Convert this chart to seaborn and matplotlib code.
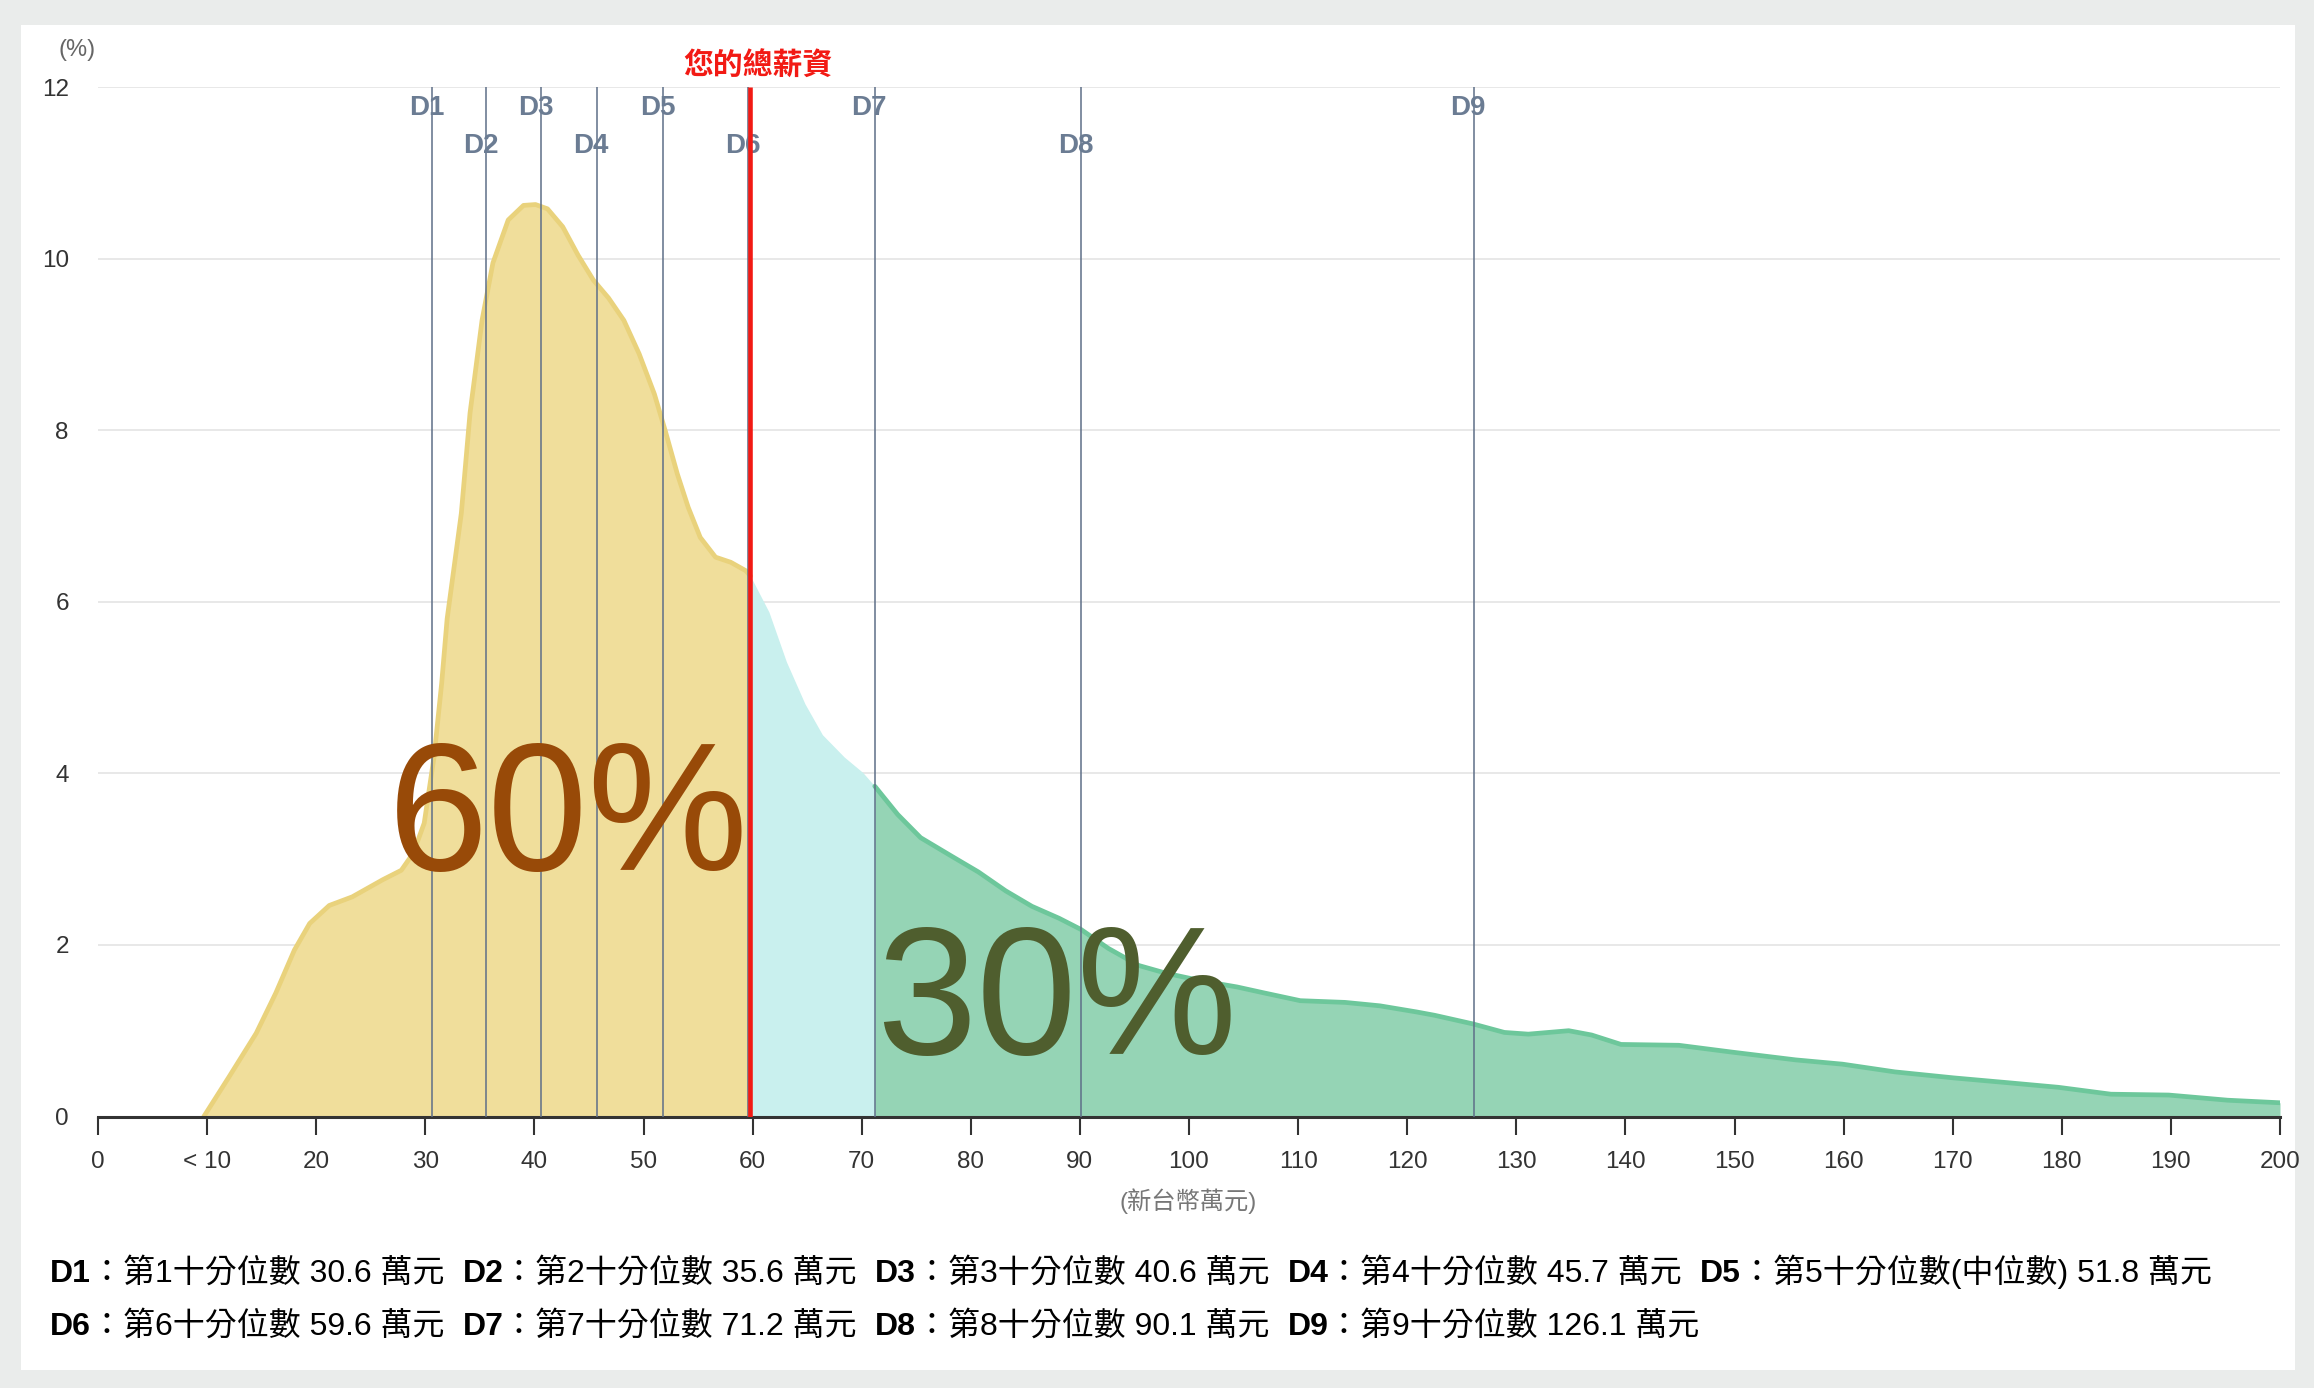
import matplotlib
matplotlib.use('Agg')
import matplotlib.pyplot as plt
from matplotlib.patches import Rectangle
import pandas as pd
import seaborn as sns

# salary distribution (x: 萬元, y: %)
salary_x = [9.7, 12.0, 14.5, 16.3, 18.0, 19.4, 21.2, 23.3, 24.7, 26.1, 27.8, 28.9, 29.9,
            30.8, 31.5, 32.0, 33.3, 34.1, 35.2, 36.2, 37.6, 39.0, 40.1, 41.2, 42.6, 44.0,
            45.4, 46.8, 48.2, 49.6, 51.0, 52.0, 53.1, 54.1, 55.2, 56.6, 58.0, 59.4, 59.8,
            61.5, 63.1, 64.8, 66.4, 68.4, 70.1, 71.2, 73.3, 75.4, 78.3, 80.7, 83.2, 85.6,
            88.1, 90.1, 92.6, 95.4, 97.9, 101.2, 104.4, 106.9, 110.2, 114.3, 117.5, 120.8,
            122.5, 126.0, 128.9, 131.1, 134.8, 136.9, 139.6, 144.9, 149.8, 155.6, 159.9,
            164.7, 170.1, 175.4, 179.7, 184.5, 189.8, 195.2, 200.0]
share_pct = [0.0, 0.46, 0.97, 1.44, 1.94, 2.25, 2.46, 2.56, 2.66, 2.76, 2.87, 3.07, 3.42,
             4.19, 5.05, 5.8, 7.03, 8.2, 9.28, 9.95, 10.45, 10.62, 10.63, 10.58, 10.37, 10.04,
             9.75, 9.54, 9.28, 8.89, 8.42, 7.99, 7.49, 7.1, 6.75, 6.52, 6.46, 6.36, 6.3,
             5.88, 5.30, 4.81, 4.45, 4.19, 4.01, 3.85, 3.52, 3.25, 3.03, 2.85, 2.63, 2.45,
             2.31, 2.18, 1.96, 1.76, 1.67, 1.58, 1.51, 1.44, 1.35, 1.33, 1.29, 1.22,
             1.18, 1.08, 0.98, 0.96, 1.0, 0.95, 0.84, 0.83, 0.75, 0.66, 0.61,
             0.52, 0.45, 0.39, 0.34, 0.26, 0.25, 0.19, 0.16]

decile_names = ['D1', 'D2', 'D3', 'D4', 'D5', 'D6', 'D7', 'D8', 'D9']
decile_values = [30.6, 35.6, 40.6, 45.7, 51.8, 59.6, 71.2, 90.1, 126.1]
decile_desc = ['第1十分位數', '第2十分位數', '第3十分位數', '第4十分位數', '第5十分位數(中位數)',
               '第6十分位數', '第7十分位數', '第8十分位數', '第9十分位數']
my_salary = 59.8
below_label = '60%'
above_label = '30%'

x_ticks = list(range(0, 201, 10))
x_tick_labels = ['0', '< 10'] + [str(v) for v in range(20, 201, 10)]
y_ticks = [0, 2, 4, 6, 8, 10, 12]

sns.set_theme(style='white')
plt.rcParams['font.family'] = ['Liberation Sans', 'Noto Sans CJK TC']

W, H = 2314, 1388
df = pd.DataFrame({'salary': salary_x, 'pct': share_pct})
below = df[df.salary <= my_salary]
middle = df[(df.salary >= my_salary) & (df.salary <= decile_values[6])]
top = df[df.salary >= decile_values[6]]

fig = plt.figure(figsize=(W / 100, H / 100), dpi=100, facecolor='#eaeceb')
fig.patches.append(Rectangle((21 / W, 1 - 1370 / H), (2295 - 21) / W, (1370 - 25) / H,
                             transform=fig.transFigure, facecolor='white', edgecolor='none', zorder=-10))
ax = fig.add_axes([98 / W, 1 - 1116.5 / H, (2280 - 98) / W, (1116.5 - 87) / H])
ax.set_facecolor('white')
ax.set_zorder(1)

# areas
ax.fill_between(below.salary, below.pct, color='#f0de9b', lw=0, zorder=1)
ax.fill_between(middle.salary, middle.pct, color='#c9f0ee', lw=0, zorder=1)
ax.fill_between(top.salary, top.pct, color='#95d4b5', lw=0, zorder=1)
sns.lineplot(data=below, x='salary', y='pct', estimator=None, color='#e9d27c', lw=3.4, ax=ax, zorder=2)
sns.lineplot(data=top, x='salary', y='pct', estimator=None, color='#6dc79b', lw=3.4, ax=ax, zorder=2)

# decile markers
ax.vlines(decile_values, 0, 12, color='#5e6f88', lw=1.1, zorder=3)
for i, (name, val) in enumerate(zip(decile_names, decile_values)):
    ax.text(val - 0.5, 11.76 if i % 2 == 0 else 11.31, name, ha='center', va='center',
            fontsize=20, fontweight='bold', color='#6b7c93', zorder=3.5)
ax.vlines(my_salary, 0, 12, color='#f21a14', lw=3.3, zorder=4)
ax.text(60.5, 12.24, '您的總薪資', ha='center', va='center', fontsize=21.5, fontweight='bold',
        color='#f21a14', clip_on=False)

ax.text(26.6, 2.87, below_label, fontsize=130, color='#984a08', ha='left', va='baseline', zorder=6)
ax.text(71.3, 0.73, above_label, fontsize=130, color='#4f5e2e', ha='left', va='baseline', zorder=6)

# axes
ax.set_xlim(0, 200)
ax.set_ylim(0, 12)
ax.set_xticks(x_ticks, x_tick_labels)
ax.set_yticks(y_ticks)
ax.set_xlabel('')
ax.set_ylabel('')
ax.yaxis.grid(True, color='#e6e6e6', lw=1.3)
ax.set_axisbelow(True)
for s in ['left', 'top', 'right']:
    ax.spines[s].set_visible(False)
ax.spines['bottom'].set_color('#333333')
ax.spines['bottom'].set_linewidth(2.2)
ax.tick_params(axis='x', bottom=True, length=13, width=1.5, color='#333333', pad=12,
               labelsize=17.5, labelcolor='#333333')
ax.tick_params(axis='y', left=False, length=0, pad=21, labelsize=17.5, labelcolor='#333333')

fig.text(1188 / W, 1 - 1201 / H, '(新台幣萬元)', ha='center', va='center', fontsize=17.5, color='#777777')
fig.text(77.5 / W, 1 - 50 / H, '(%)', ha='center', va='center', fontsize=17, color='#666666')


# decile legend rows below the chart
def write_row(idx, y_px, size=23):
    last = None
    for i in idx:
        desc = '：{} {:.1f} 萬元'.format(decile_desc[i], decile_values[i])
        if last is None:
            name = fig.text(50 / W, 1 - y_px / H, decile_names[i], fontsize=size,
                            fontweight='bold', color='black', va='center', ha='left')
        else:
            name = ax.annotate(decile_names[i], xy=(1, 0), xycoords=last, xytext=(13, 0),
                               textcoords='offset points', fontsize=size, fontweight='bold',
                               color='black', va='bottom', ha='left', annotation_clip=False)
        last = ax.annotate(desc, xy=(1, 0), xycoords=name, xytext=(0, 0), textcoords='offset points',
                           fontsize=size, color='black', va='bottom', ha='left', annotation_clip=False)


write_row(range(0, 5), 1274)
write_row(range(5, 9), 1327)

fig.savefig('out.png', dpi=100, facecolor=fig.get_facecolor())
